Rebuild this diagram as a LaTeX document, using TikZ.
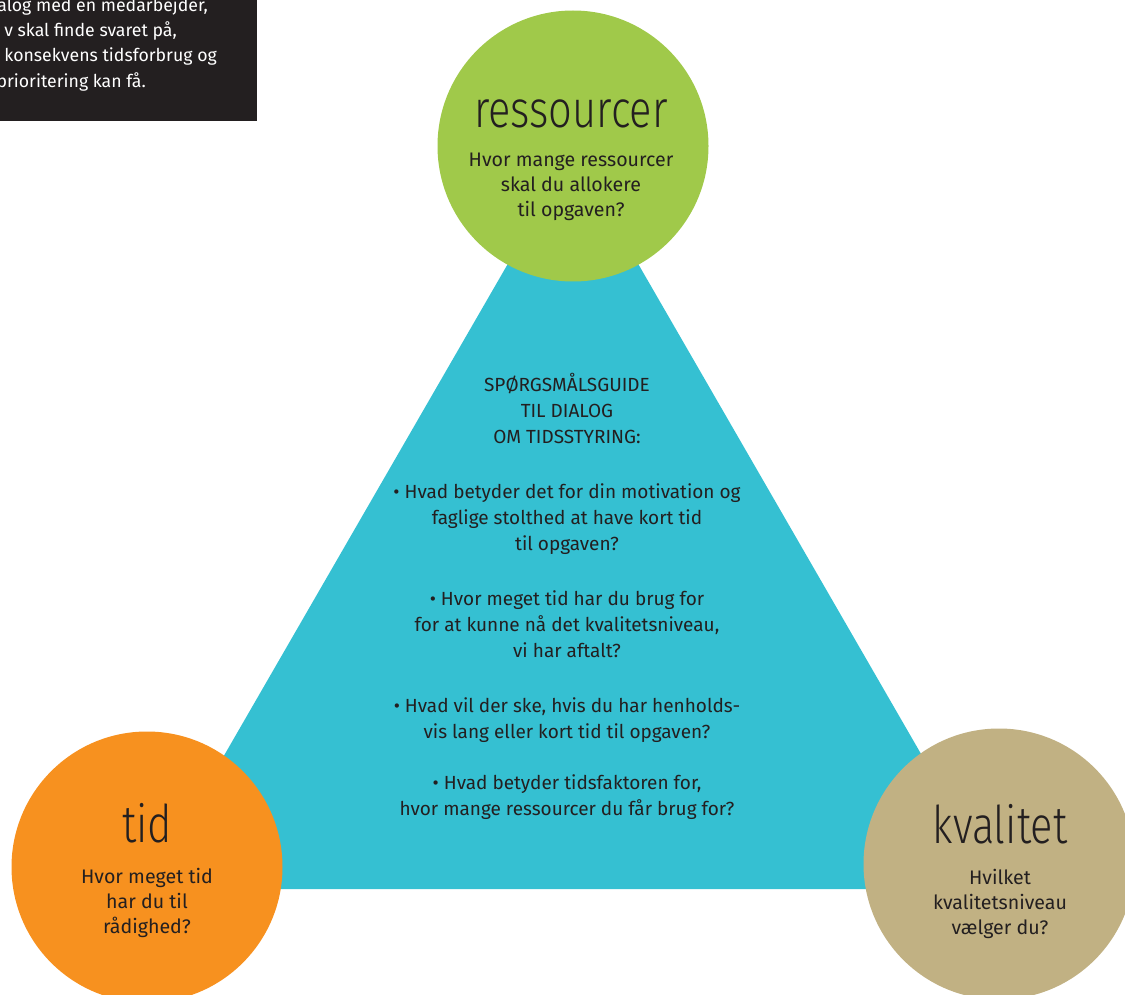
\documentclass[tikz,border=0pt]{standalone}
\usepackage{fontspec}
\setmainfont{Fira Sans}
\newfontfamily\thinfont[FakeStretch=0.8]{Fira Sans Light}
\usepackage{tikz}
\usetikzlibrary{positioning}

\definecolor{ressgreen}{HTML}{A0C94A}
\definecolor{guidecyan}{HTML}{35C0D2}
\definecolor{tidorange}{HTML}{F7911F}
\definecolor{kvaltan}{HTML}{C1B183}
\definecolor{inkblack}{HTML}{231F20}

\tikzset{
  bubble/.style={circle, minimum size=271pt, inner sep=0pt},
  heading/.style={font=\thinfont\fontsize{52}{52}\selectfont, text=inkblack, anchor=base},
  question/.style={font=\fontsize{19.6}{25}\selectfont, text=inkblack, align=center},
  introline/.style={font=\fontsize{17.7}{25}\selectfont, text=white, anchor=base east, inner sep=0pt},
}

\begin{document}
\begin{tikzpicture}[x=1pt, y=-1pt]
            \useasboundingbox (0,0) rectangle (1125,995);
            \clip (0,0) rectangle (1125,995);
            % the triangle behind the three circles
            \coordinate (apex) at (573,151);
            \coordinate (lefttip) at (147,889);
            \coordinate (righttip) at (999,889);
            \fill[guidecyan] (apex) -- (lefttip) -- (righttip) -- cycle;
            \node[question, font=\fontsize{19}{26}\selectfont] (guide) at (567,596) {%
                SPØRGSMÅLSGUIDE\\ TIL DIALOG\\ OM TIDSSTYRING:\\[29pt]
                • Hvad betyder det for din motivation og\\ faglige stolthed at have kort tid\\ til opgaven?\\[29pt]
                • Hvor meget tid har du brug for\\ for at kunne nå det kvalitetsniveau,\\ vi har aftalt?\\[29pt]
                • Hvad vil der ske, hvis du har henholds-\\ vis lang eller kort tid til opgaven?\\[25pt]
                • Hvad betyder tidsfaktoren for,\\ hvor mange ressourcer du får brug for?};
            % circles
            \node[bubble, fill=ressgreen] (ress) at (573,146) {};
            \node[bubble, fill=tidorange] (tid) at (147,867) {};
            \node[bubble, fill=kvaltan] (kval) at (999,864) {};
            \node[heading] (resstitle) at (571,128) {ressourcer};
            \node[question] (resstext) at (571,187) {Hvor mange ressourcer\\ skal du allokere\\ til opgaven?};
            \node[heading] (tidtitle) at (147,842) {tid};
            \node[question] (tidtext) at (147,903) {Hvor meget tid\\ har du til\\ rådighed?};
            \node[heading] (kvaltitle) at (1000,843) {kvalitet};
            \node[question] (kvaltext) at (1000,904) {Hvilket\\ kvalitetsniveau\\ vælger du?};
            % black box in the corner
            \fill[inkblack] (0,0) rectangle (257,121);
            \node[introline] (intro1) at (208,12) {alog med en medarbejder,};
            \node[introline] (intro2) at (177,37) {v skal finde svaret på,};
            \node[introline] (intro3) at (217,62) {konsekvens tidsforbrug og};
            \node[introline] (intro4) at (146,88) {prioritering kan få.};
\end{tikzpicture}
\end{document}
